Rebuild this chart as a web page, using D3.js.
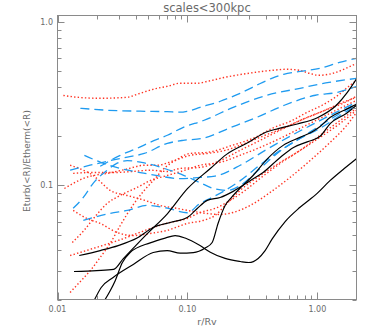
<!DOCTYPE html>
<html lang="en">
<head>
<meta charset="UTF-8">
<title>scales&lt;300kpc</title>
<script src="https://d3js.org/d3.v7.min.js"></script>
<style>
  body { margin: 0; background: #fff; }
  text { font-family: "DejaVu Sans", sans-serif; fill: #6a6a6a; }
</style>
</head>
<body>
<div id="chart"></div>
<script>
// axis ticks
const xMajor = [0.01, 0.1, 1];
const xMajorLabels = ["0.01", "0.10", "1.00"];
const yMajor = [0.1, 1];
const yMajorLabels = ["0.1", "1.0"];

// solid black curves  [r/Rv, Eturb/Etherm]
const blackRuns = [
  [[0.0147,0.0372],[0.0213,0.0399],[0.0293,0.0428],[0.041,0.0476],[0.0545,0.0553],[0.0736,0.0593],[0.0995,0.0636],[0.119,0.0723],[0.142,0.081],[0.1785,0.0844],[0.225,0.092],[0.304,0.107],[0.382,0.120],[0.517,0.1485],[0.655,0.171],[0.835,0.185],[1.05,0.20],[1.26,0.24],[1.68,0.277],[2.0,0.31]],
  [[0.0134,0.0297],[0.02,0.0301],[0.027,0.0306],[0.032,0.0355],[0.04,0.0428],[0.05,0.0514],[0.07,0.067],[0.1,0.0955],[0.15,0.127],[0.2,0.155],[0.3,0.185],[0.4,0.212],[0.5,0.223],[0.7,0.238],[1.0,0.26],[1.4,0.31],[1.7,0.372],[2.0,0.45]],
  [[0.019,0.0195],[0.0217,0.0237],[0.0268,0.0273],[0.0383,0.0328],[0.0545,0.0388],[0.0698,0.0399],[0.0879,0.0385],[0.111,0.0388],[0.137,0.0414],[0.155,0.0447],[0.172,0.0585],[0.195,0.0754],[0.22,0.085],[0.26,0.098],[0.32,0.115],[0.41,0.145],[0.545,0.176],[0.735,0.197],[0.927,0.215],[1.05,0.23],[1.25,0.261],[1.61,0.289],[2.0,0.314]],
  [[0.0228,0.0195],[0.0255,0.0227],[0.0278,0.0261],[0.0315,0.0336],[0.0362,0.0388],[0.0517,0.0445],[0.0674,0.0476],[0.0804,0.0493],[0.096,0.0476],[0.125,0.0428],[0.15,0.039],[0.195,0.0357],[0.255,0.0342],[0.297,0.0337],[0.35,0.0357],[0.396,0.0399],[0.449,0.047],[0.565,0.0601],[0.735,0.0735],[0.996,0.0894],[1.25,0.107],[1.61,0.127],[2.0,0.146]]
];

// dashed blue curves
const blueRuns = [
  [[0.015,0.297],[0.0241,0.289],[0.0433,0.285],[0.07,0.283],[0.088,0.281],[0.1,0.285],[0.125,0.301],[0.179,0.328],[0.254,0.367],[0.36,0.42],[0.45,0.455],[0.55,0.48],[0.735,0.50],[1.05,0.522],[1.48,0.568],[2.0,0.601]],
  [[0.0213,0.131],[0.0304,0.153],[0.0411,0.169],[0.0517,0.184],[0.07,0.203],[0.093,0.227],[0.133,0.25],[0.225,0.301],[0.41,0.357],[0.735,0.394],[1.23,0.428],[2.0,0.453]],
  [[0.0125,0.124],[0.0178,0.133],[0.0255,0.142],[0.0326,0.148],[0.0465,0.157],[0.07,0.181],[0.0926,0.189],[0.129,0.194],[0.217,0.227],[0.344,0.262],[0.557,0.31],[0.965,0.357],[1.43,0.372],[2.0,0.405]],
  [[0.0161,0.153],[0.0213,0.139],[0.0304,0.127],[0.0433,0.12],[0.0616,0.114],[0.088,0.11],[0.125,0.112],[0.163,0.114],[0.255,0.133],[0.396,0.164],[0.636,0.203],[0.98,0.243],[1.5,0.289],[2.0,0.323]],
  [[0.0132,0.0724],[0.0158,0.0844],[0.0188,0.103],[0.0241,0.124],[0.0288,0.137],[0.0344,0.142],[0.0473,0.137],[0.0666,0.127],[0.0944,0.115],[0.125,0.104],[0.158,0.0958],[0.202,0.0932],[0.255,0.1],[0.335,0.12],[0.44,0.146],[0.565,0.171],[0.735,0.194],[1.05,0.224],[1.5,0.269],[2.0,0.31]],
  [[0.0158,0.061],[0.0255,0.0675],[0.0344,0.0703],[0.0491,0.0754],[0.07,0.0726],[0.0996,0.068],[0.125,0.0776],[0.15,0.0834],[0.195,0.0932],[0.255,0.107],[0.36,0.133],[0.518,0.164],[0.735,0.194],[1.05,0.233],[1.5,0.277],[2.0,0.32]]
];

// dotted red curves
const redRuns = [
  [[0.0111,0.356],[0.0142,0.347],[0.0213,0.342],[0.0344,0.347],[0.041,0.362],[0.0585,0.394],[0.07,0.405],[0.088,0.423],[0.119,0.423],[0.142,0.434],[0.195,0.46],[0.297,0.487],[0.455,0.508],[0.573,0.515],[0.722,0.508],[0.864,0.487],[1.03,0.473],[1.32,0.487],[1.66,0.522],[2.0,0.56]],
  [[0.0113,0.0958],[0.0132,0.1028],[0.0158,0.1104],[0.0188,0.115],[0.0241,0.1185],[0.0332,0.1253],[0.0473,0.133],[0.0585,0.133],[0.079,0.142],[0.105,0.153],[0.142,0.157],[0.195,0.164],[0.278,0.181],[0.396,0.203],[0.564,0.227],[0.805,0.258],[1.146,0.289],[1.633,0.323],[2.0,0.352]],
  [[0.0132,0.1185],[0.0179,0.12],[0.0268,0.12],[0.0382,0.1218],[0.0517,0.124],[0.0698,0.1218],[0.0879,0.1271],[0.125,0.129],[0.1785,0.142],[0.254,0.164],[0.3625,0.189],[0.5166,0.218],[0.736,0.25],[1.049,0.2805],[1.495,0.318],[2.0,0.347]],
  [[0.0125,0.133],[0.0158,0.124],[0.0188,0.115],[0.0213,0.1058],[0.0254,0.0932],[0.0344,0.0868],[0.0473,0.0809],[0.0617,0.0754],[0.0834,0.0723],[0.1106,0.0693],[0.1418,0.0673],[0.1785,0.0664],[0.2247,0.0683],[0.3036,0.0754],[0.4327,0.0906],[0.6166,0.112],[0.879,0.142],[1.252,0.1836],[1.633,0.2269],[2.0,0.28]],
  [[0.0132,0.0703],[0.0169,0.0627],[0.0213,0.0585],[0.0288,0.0515],[0.0382,0.0493],[0.0517,0.0508],[0.0698,0.053],[0.0995,0.0585],[0.132,0.061],[0.163,0.0655],[0.195,0.0754],[0.254,0.0932],[0.3625,0.115],[0.5166,0.1384],[0.736,0.164],[1.049,0.203],[1.495,0.25],[2.0,0.297]],
  [[0.013,0.0447],[0.016,0.053],[0.0192,0.0636],[0.0241,0.0776],[0.0304,0.0868],[0.041,0.0972],[0.0517,0.107],[0.0698,0.115],[0.096,0.124],[0.125,0.133],[0.1785,0.1384],[0.254,0.153],[0.3625,0.171],[0.5166,0.1942],[0.736,0.2237],[1.049,0.2576],[1.495,0.297],[2.0,0.332]],
  [[0.0125,0.0221],[0.015,0.0258],[0.0179,0.0301],[0.0213,0.0362],[0.0254,0.0441],[0.0304,0.0568],[0.0389,0.0776],[0.0465,0.0932],[0.0545,0.107],[0.0674,0.129],[0.0805,0.142],[0.105,0.1571],[0.142,0.1594],[0.2207,0.176],[0.332,0.197],[0.448,0.2237],[0.639,0.25],[0.805,0.2765],[1.087,0.31],[1.443,0.357],[1.785,0.411],[2.0,0.441]],
  [[0.0125,0.0372],[0.0188,0.0411],[0.0293,0.046],[0.041,0.0508],[0.0545,0.0553],[0.0736,0.0593],[0.0995,0.0627],[0.125,0.0683],[0.163,0.0723],[0.2131,0.0809],[0.278,0.0932],[0.3625,0.1104],[0.5166,0.1364],[0.736,0.164],[1.049,0.197],[1.495,0.24],[2.0,0.289]]
];

const W = 374, H = 332;
const pLeft = 57.5, pRight = 356.5, pTop = 15.5, pBottom = 299.5;

const svg = d3.select("#chart").append("svg")
  .attr("width", W).attr("height", H);

const x = d3.scaleLog().domain([0.01, 2.0]).range([pLeft, pRight]);
const y = d3.scaleLog().domain([0.02, 1.1]).range([pBottom, pTop]);

svg.append("clipPath").attr("id", "plotclip")
  .append("rect")
  .attr("x", pLeft).attr("y", pTop)
  .attr("width", pRight - pLeft).attr("height", pBottom - pTop);

const line = d3.line()
  .x(d => x(d[0]))
  .y(d => y(d[1]))
  .curve(d3.curveMonotoneX);

const plot = svg.append("g").attr("clip-path", "url(#plotclip)");

// red dotted first, then blue dashed, black on top
plot.selectAll(".red").data(redRuns).enter().append("path")
  .attr("class", "red")
  .attr("d", line)
  .attr("fill", "none")
  .attr("stroke", "#ff3322")
  .attr("stroke-width", 1.4)
  .attr("stroke-dasharray", "1.4,2.2");

plot.selectAll(".blue").data(blueRuns).enter().append("path")
  .attr("class", "blue")
  .attr("d", line)
  .attr("fill", "none")
  .attr("stroke", "#1f9bf0")
  .attr("stroke-width", 1.3)
  .attr("stroke-dasharray", "9,5");

plot.selectAll(".black").data(blackRuns).enter().append("path")
  .attr("class", "black")
  .attr("d", line)
  .attr("fill", "none")
  .attr("stroke", "#000")
  .attr("stroke-width", 1.2);

// frame
const frameColor = "#8a8a8a";
svg.append("rect")
  .attr("x", pLeft).attr("y", pTop)
  .attr("width", pRight - pLeft).attr("height", pBottom - pTop)
  .attr("fill", "none").attr("stroke", frameColor).attr("stroke-width", 1);

// log ticks: majors + minors (inward, on all four sides)
const xMinor = [];
[0.01, 0.1, 1].forEach(d => { for (let k = 2; k <= 9; k++) { const v = d * k; if (v < 2.0) xMinor.push(v); } });
const yMinor = [];
[0.01, 0.1].forEach(d => { for (let k = 2; k <= 9; k++) { const v = d * k; if (v >= 0.02) yMinor.push(v); } });

const ticks = svg.append("g").attr("stroke", frameColor).attr("stroke-width", 1);
const xt = xMajor.map(v => ({ v, len: 7 })).concat(xMinor.map(v => ({ v, len: 4 })));
xt.forEach(t => {
  const px = Math.round(x(t.v)) + 0.5;
  ticks.append("line").attr("x1", px).attr("x2", px).attr("y1", pBottom).attr("y2", pBottom - t.len);
  ticks.append("line").attr("x1", px).attr("x2", px).attr("y1", pTop).attr("y2", pTop + t.len);
});
const yt = yMajor.map(v => ({ v, len: 7 })).concat(yMinor.map(v => ({ v, len: 4 })));
yt.forEach(t => {
  const py = Math.round(y(t.v)) + 0.5;
  ticks.append("line").attr("x1", pLeft).attr("x2", pLeft + t.len).attr("y1", py).attr("y2", py);
  ticks.append("line").attr("x1", pRight).attr("x2", pRight - t.len).attr("y1", py).attr("y2", py);
});

// tick labels
svg.selectAll(".xlab").data(xMajor).enter().append("text")
  .attr("x", d => x(d)).attr("y", 311.5)
  .attr("text-anchor", "middle").attr("font-size", 8)
  .text((d, i) => xMajorLabels[i]);

svg.selectAll(".ylab").data(yMajor).enter().append("text")
  .attr("x", 53).attr("y", d => y(d) + 3)
  .attr("text-anchor", "end").attr("font-size", 8)
  .text((d, i) => yMajorLabels[i]);

// titles
svg.append("text")
  .attr("x", (pLeft + pRight) / 2).attr("y", 12)
  .attr("text-anchor", "middle").attr("font-size", 11.5)
  .text("scales<300kpc");

svg.append("text")
  .attr("x", (pLeft + pRight) / 2).attr("y", 325)
  .attr("text-anchor", "middle").attr("font-size", 9.5)
  .text("r/Rv");

svg.append("text")
  .attr("transform", "translate(30,161) rotate(-90)")
  .attr("text-anchor", "middle").attr("font-size", 9)
  .text("Eturb(<R)/Etherm(<R)");
</script>
</body>
</html>
